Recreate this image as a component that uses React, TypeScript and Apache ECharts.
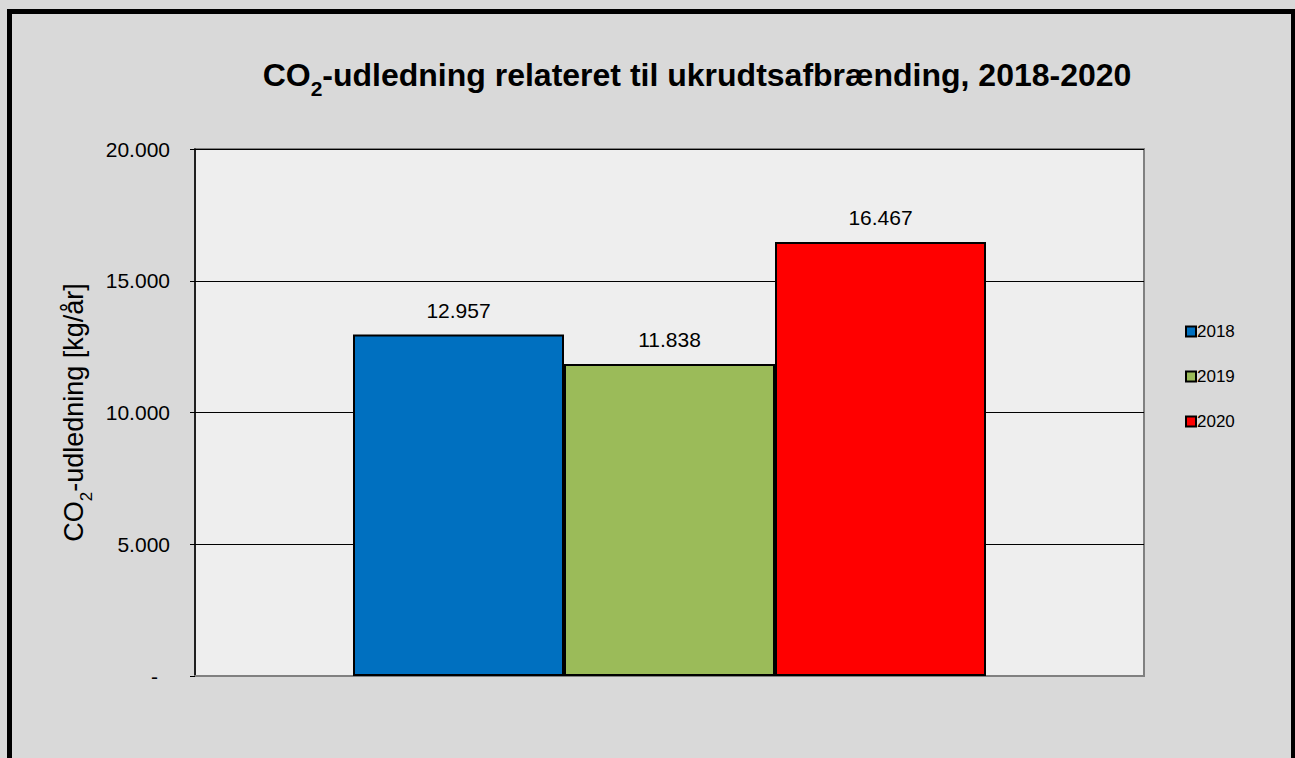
import React, { useEffect, useRef } from "react";
import * as echarts from "echarts";

const categories = ["CO2"];
const seriesNames = ["2018", "2019", "2020"];
const seriesValues = [12957, 11838, 16467];
const seriesColors = ["#0070c0", "#9bbb59", "#ff0000"];
const yTicks = [0, 5000, 10000, 15000, 20000];

function fmt(v: number): string {
  if (v === 0) return "-";
  const s = Math.round(v).toString();
  return s.replace(/\B(?=(\d{3})+(?!\d))/g, ".");
}

export default function App() {
  const ref = useRef<HTMLDivElement>(null);
  useEffect(() => {
    if (!ref.current) return;
    const chart = echarts.init(ref.current, null, { renderer: "svg" });
    const font = "'Liberation Sans', Arial, sans-serif";
    chart.setOption({
      animation: false,
      backgroundColor: "#d9d9d9",
      textStyle: { fontFamily: font },
      title: {
        text: "{a|CO}{s|2}{a|-udledning relateret til ukrudtsafbrænding, 2018-2020}",
        left: 692,
        top: 44,
        textAlign: "center",
        textStyle: {
          rich: {
            a: { fontSize: 32, fontWeight: "bold", color: "#000", fontFamily: font, verticalAlign: "bottom", lineHeight: 42 },
            s: { fontSize: 21, fontWeight: "bold", color: "#000", fontFamily: font, verticalAlign: "bottom", lineHeight: 30, padding: [0, 0, -8, 0] },
          },
        },
      },
      legend: {
        orient: "vertical",
        left: 1180,
        top: 318,
        itemWidth: 10,
        itemHeight: 10,
        itemGap: 28,
        icon: "rect",
        textStyle: { fontSize: 17, color: "#000", fontFamily: font, padding: [0, 0, 0, -4] },
        data: seriesNames,
      },
      grid: {
        left: 195,
        top: 149,
        right: 151,
        bottom: 82,
        show: true,
        backgroundColor: "#eeeeee",
        borderColor: "#808080",
        borderWidth: 2,
      },
      xAxis: {
        type: "category",
        data: categories,
        axisLine: { show: true, lineStyle: { color: "#808080", width: 2 } },
        axisTick: { show: false },
        axisLabel: { show: false },
      },
      yAxis: {
        type: "value",
        min: yTicks[0],
        max: yTicks[yTicks.length - 1],
        interval: 5000,
        name: "{a|CO}{s|2}{a|-udledning [kg/år]}",
        nameLocation: "middle",
        nameGap: 102,
        nameRotate: 90,
        nameTextStyle: {
          rich: {
            a: { fontSize: 27, color: "#000", fontFamily: font, verticalAlign: "bottom", lineHeight: 34 },
            s: { fontSize: 17, color: "#000", fontFamily: font, verticalAlign: "bottom", lineHeight: 24, padding: [0, 0, -7, 0] },
          },
        },
        axisLine: { show: true, lineStyle: { color: "#000", width: 1.5 } },
        axisTick: { show: true, length: 5, lineStyle: { color: "#000" } },
        axisLabel: {
          fontSize: 21,
          color: "#000",
          margin: 25,
          formatter: (v: number) => (v === 0 ? "{d|-}" : fmt(v)),
          rich: { d: { fontSize: 21, color: "#000", fontFamily: font, padding: [0, 12, 0, 0] } },
        },
        splitLine: { show: true, lineStyle: { color: "#000", width: 1 } },
      },
      series: seriesNames.map((name, i) => ({
        name,
        type: "bar",
        data: [seriesValues[i]],
        barWidth: 211,
        barGap: "0%",
        itemStyle: { color: seriesColors[i], borderColor: "#000", borderWidth: 2 },
        label: {
          show: true,
          position: "top",
          distance: 14,
          fontSize: 21,
          color: "#000",
          fontFamily: font,
          formatter: (p: any) => fmt(p.value),
        },
      })),
      graphic: [
        {
          type: "rect",
          shape: { x: 9.5, y: 11.5, width: 1284, height: 780 },
          style: { fill: "none", stroke: "#000", lineWidth: 5 },
          silent: true,
        },
      ],
    });
    return () => chart.dispose();
  }, []);
  return (
    <div
      ref={ref}
      style={{ position: "fixed", left: 0, top: 0, width: 1295, height: 758 }}
    />
  );
}
